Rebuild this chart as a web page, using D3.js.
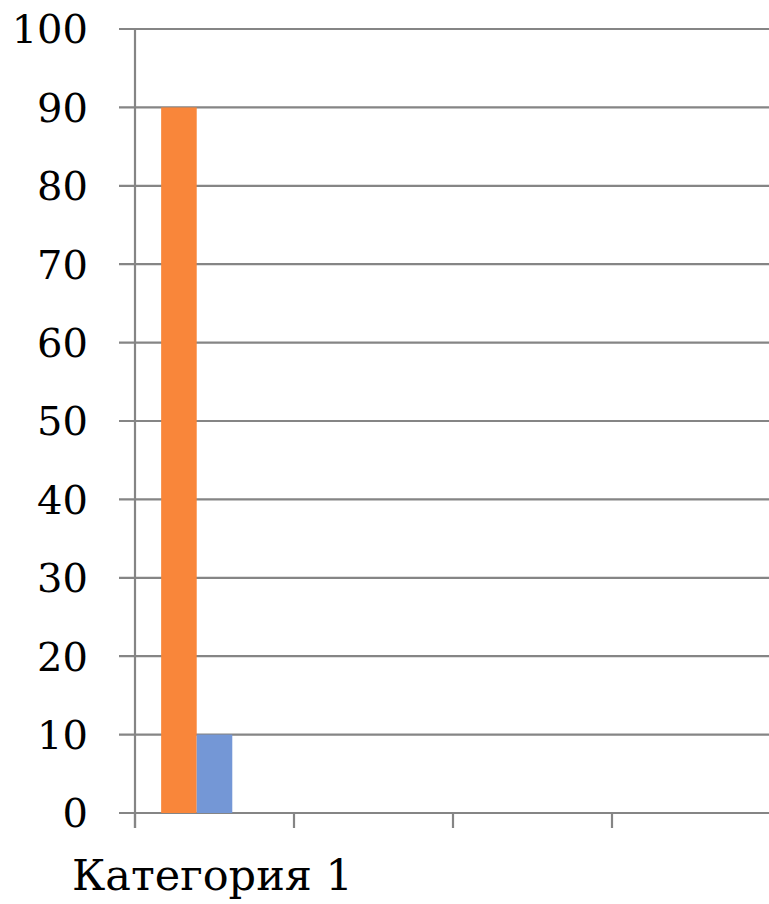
<!DOCTYPE html>
<html>
<head>
<meta charset="utf-8">
<script src="https://cdn.jsdelivr.net/npm/d3@7"></script>
<style>
  html, body { margin: 0; padding: 0; background: #fff; }
  svg { display: block; }
</style>
</head>
<body>
<svg id="chart" width="769" height="904"></svg>
<script>
// Categories along the x axis (only the first one is named)
const categories = ["Категория 1", "", "", ""];
// Series and their values per category
const seriesNames = ["Ряд 1", "Ряд 2", "Ряд 3"];
const series1 = [90, null, null, null];
const series2 = [10, null, null, null];
const series3 = [0, null, null, null];
const seriesColors = ["#f9863a", "#7497d6", "#a5a5a5"];
// Value axis ticks
const yTicks = [0, 10, 20, 30, 40, 50, 60, 70, 80, 90, 100];

const FONT = "'DejaVu Serif', 'Liberation Serif', serif";
const values = [series1, series2, series3];
const svg = d3.select("#chart");

const plot = { left: 135, right: 771, top: 29, bottom: 813 };

const x0 = d3.scaleBand()
  .domain(d3.range(categories.length))
  .range([plot.left, plot.right])
  .paddingInner(0).paddingOuter(0);

const x1 = d3.scaleBand()
  .domain(d3.range(seriesNames.length))
  .range([0, x0.bandwidth()])
  .paddingInner(0)
  .paddingOuter(0.735);

const y = d3.scaleLinear().domain([0, 100]).range([plot.bottom, plot.top]);

// Horizontal gridlines (extending slightly left of the axis)
svg.append("g")
  .selectAll("line")
  .data(yTicks)
  .join("line")
  .attr("x1", plot.left - 16)
  .attr("x2", 769)
  .attr("y1", d => y(d))
  .attr("y2", d => y(d))
  .attr("stroke", "#858585")
  .attr("stroke-width", 2.2);

// Bars
const groups = svg.append("g")
  .selectAll("g")
  .data(categories.map((c, i) => ({ c, i })))
  .join("g")
  .attr("transform", d => `translate(${x0(d.i)},0)`);

groups.selectAll("rect")
  .data(d => values.map((s, k) => ({ k, v: s[d.i] })).filter(e => e.v != null && e.v > 0))
  .join("rect")
  .attr("x", e => x1(e.k))
  .attr("width", x1.bandwidth())
  .attr("y", e => y(e.v))
  .attr("height", e => y(0) - y(e.v))
  .attr("fill", e => seriesColors[e.k]);

// Vertical value axis line
svg.append("line")
  .attr("x1", plot.left).attr("x2", plot.left)
  .attr("y1", plot.top - 1).attr("y2", plot.bottom + 15)
  .attr("stroke", "#858585").attr("stroke-width", 2.2);

// Category tick marks at band boundaries
const bounds = d3.range(categories.length + 1).map(i => plot.left + i * x0.step());
svg.append("g")
  .selectAll("line")
  .data(bounds)
  .join("line")
  .attr("x1", d => d).attr("x2", d => d)
  .attr("y1", plot.bottom).attr("y2", plot.bottom + 15)
  .attr("stroke", "#858585").attr("stroke-width", 2.2);

// Value axis labels
svg.append("g")
  .selectAll("text")
  .data(yTicks)
  .join("text")
  .attr("x", 88)
  .attr("y", d => y(d))
  .attr("dy", "0.36em")
  .attr("text-anchor", "end")
  .attr("font-family", FONT)
  .attr("font-size", 40)
  .attr("fill", "#000")
  .text(d => d);

// Category labels
svg.append("g")
  .selectAll("text")
  .data(categories.map((c, i) => ({ c, i })))
  .join("text")
  .attr("x", d => x0(d.i) + x0.bandwidth() / 2 - 2)
  .attr("y", 890)
  .attr("text-anchor", "middle")
  .attr("font-family", FONT)
  .attr("font-size", 43)
  .attr("fill", "#000")
  .text(d => d.c);
</script>
</body>
</html>
